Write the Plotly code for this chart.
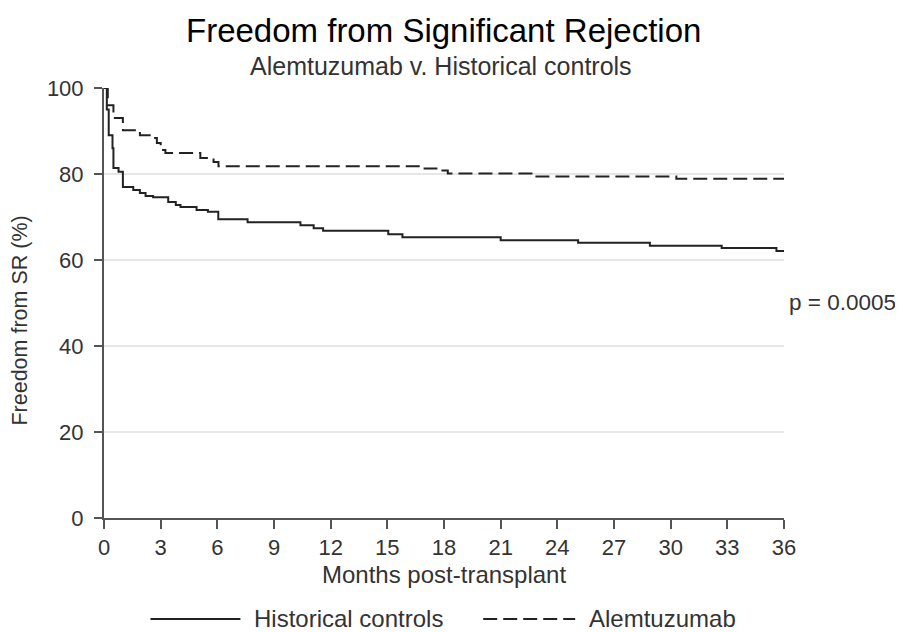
import plotly.graph_objects as go

# Kaplan-Meier style step data (months, % free from significant rejection)
hist_months = [0, 0.15, 0.25, 0.45, 0.5, 0.77, 1.0, 1.55, 1.9, 2.2, 2.6, 3.4, 3.8, 4.05, 4.9, 5.5,
               6.05, 7.6, 10.4, 11.1, 11.6, 15.05, 15.8, 21.0, 25.1, 28.9, 32.7, 35.6, 36]
hist_values = [100, 95, 89, 86, 81.4, 80.5, 77, 76.3, 75.6, 74.9, 74.6, 73.5, 72.8, 72.3, 71.6, 71.2,
               69.5, 68.8, 68.1, 67.4, 66.8, 66.0, 65.3, 64.6, 64.0, 63.3, 62.8, 62.1, 62.1]

alem_months = [0, 0.2, 0.5, 1.0, 1.9, 2.5, 2.8, 3.0, 3.25, 5.1, 5.8, 6.06, 16.75, 17.6, 18.2, 22.7, 30.3, 36]
alem_values = [100, 96, 93, 90.2, 89, 88.4, 87.2, 85.6, 84.9, 83.7, 82.8, 81.8, 81.3, 80.8, 80.1, 79.4, 78.9, 78.9]

x_ticks = list(range(0, 37, 3))
y_ticks = [0, 20, 40, 60, 80, 100]

FONT = "Liberation Sans"
INK = "#222222"
TXT = "#333333"

fig = go.Figure()
fig.add_trace(go.Scatter(x=hist_months, y=hist_values, mode="lines", line_shape="hv",
                         line=dict(color=INK, width=2), name="Historical controls", showlegend=False))
fig.add_trace(go.Scatter(x=alem_months, y=alem_values, mode="lines", line_shape="hv",
                         line=dict(color=INK, width=2, dash="14px,6px"), name="Alemtuzumab", showlegend=False))

# the page body adds an 8px offset; plot area target in screenshot pixels: x 103.5..784, y 88..518
OFF = 8
W, H = 903 - OFF, 632 - OFF
L, T = 103.5 - OFF, 88 - OFF
R, B = 119, 114
pw, ph = 784 - 103.5, 518 - 88

def px(xpix):
    return (xpix - 103.5) / pw

def py(ypix):
    return (518 - ypix) / ph

fig.update_layout(
    width=W, height=H,
    margin=dict(l=L, r=R, t=T, b=B, pad=0),
    paper_bgcolor="white", plot_bgcolor="white",
    font=dict(family=FONT, size=22, color=TXT),
    xaxis=dict(range=[0, 36], tickvals=x_ticks, ticktext=[str(v) for v in x_ticks],
               showgrid=False, zeroline=False, showline=True, linecolor="#555555", linewidth=2,
               ticks="outside", ticklen=9, tickcolor="#555555", tickwidth=1.5,
               ticklabelstandoff=0,
               tickfont=dict(family=FONT, size=22, color=TXT)),
    yaxis=dict(range=[0, 100], tickvals=y_ticks, ticktext=[str(v) for v in y_ticks],
               showgrid=True, gridcolor="#e6e6e6", gridwidth=1.5, zeroline=False,
               showline=True, linecolor="#555555", linewidth=2,
               ticks="outside", ticklen=8, tickcolor="#555555", tickwidth=1.5,
               ticklabelstandoff=6,
               tickfont=dict(family=FONT, size=22, color=TXT)),
)

ann = [
    dict(text="Freedom from Significant Rejection", x=px(443), y=py(30), font=dict(size=33, color="#000000")),
    dict(text="Alemtuzumab v. Historical controls", x=px(441), y=py(66), font=dict(size=25, color=TXT)),
    dict(text="Months post-transplant", x=px(444), y=py(574), font=dict(size=24, color=TXT)),
    dict(text="Freedom from SR (%)", x=px(19), y=py(321), textangle=-90, font=dict(size=21.5, color=TXT)),
    dict(text="p = 0.0005", x=px(787), y=py(302), xanchor="left", font=dict(size=22.5, color=TXT)),
    dict(text="Historical controls", x=px(252), y=py(618), xanchor="left", font=dict(size=24, color=TXT)),
    dict(text="Alemtuzumab", x=px(587), y=py(618), xanchor="left", font=dict(size=24, color=TXT)),
]
for a in ann:
    a.setdefault("xanchor", "center")
    fig.add_annotation(xref="paper", yref="paper", showarrow=False, yanchor="middle", **a)

# legend sample lines
fig.add_shape(type="line", xref="paper", yref="paper", x0=px(150), x1=px(240), y0=py(619), y1=py(619),
              line=dict(color=INK, width=2))
fig.add_shape(type="line", xref="paper", yref="paper", x0=px(483), x1=px(575), y0=py(619), y1=py(619),
              line=dict(color=INK, width=2, dash="14px,6px"))

fig.write_html("out.html")
